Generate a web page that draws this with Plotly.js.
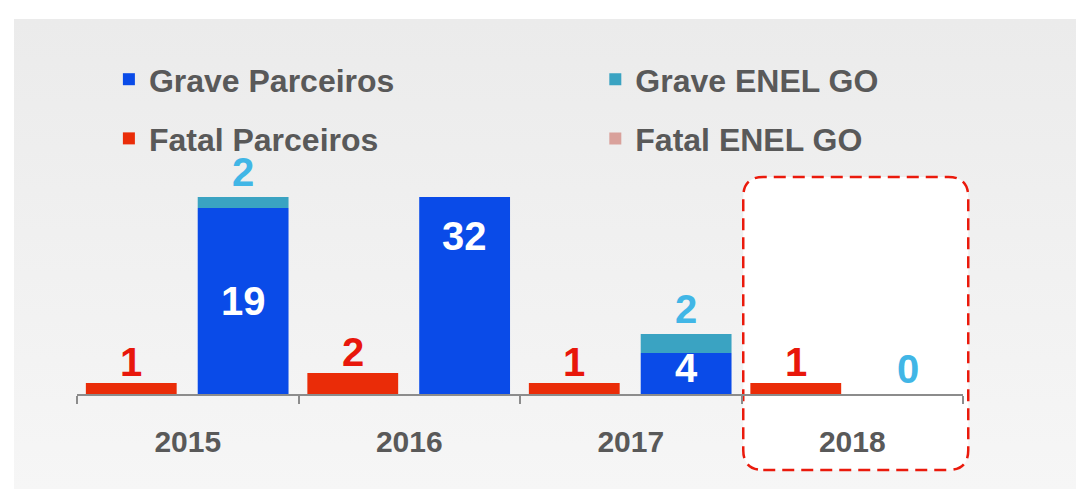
<!DOCTYPE html>
<html>
<head>
<meta charset="utf-8">
<script src="https://cdn.plot.ly/plotly-3.0.1.min.js"></script>
<style>
  html, body { margin: 0; padding: 0; background: #ffffff; }
  #chart {
    position: absolute; left: 14px; top: 19px; width: 1062px; height: 470px;
    background: linear-gradient(#ebebeb, #f6f6f6);
  }
</style>
</head>
<body>
<div id="chart"></div>
<script>
// categories
var years = ['2015', '2016', '2017', '2018'];

// numbers printed on the chart
var fatalParceirosShown = [1, 2, 1, 1];
var graveParceirosShown = [19, 32, 4, null];
var graveEnelShown = [2, null, 2, 0];

// bar heights as drawn in the original (its scale is not linear)
var fatalParceirosHeight = [11, 21, 11, 11];
var fatalEnelHeight = [0, 0, 0, 0];
var graveParceirosHeight = [186, 197, 41, 0];
var graveEnelHeight = [11, 0, 19, 0];

var BAR_W = 0.41, FATAL_OFF = -0.46, GRAVE_OFF = 0.045;
var GREY = '#595959';
var FONT = 'Arial, "Liberation Sans", sans-serif';

function barTrace(name, y, base, off, color, legend) {
	return {
		type: 'bar',
		name: name,
		x: years,
		y: y,
		base: base,
		width: BAR_W,
		offset: off,
		marker: { color: color, line: { width: 0 } },
		legend: legend,
		hoverinfo: 'skip'
	};
}

var data = [
	barTrace('Grave Parceiros', graveParceirosHeight, null, GRAVE_OFF, '#0a4be8', 'legend'),
	barTrace('Grave ENEL GO', graveEnelHeight, graveParceirosHeight, GRAVE_OFF, '#3aa3c2', 'legend2'),
	barTrace('Fatal Parceiros', fatalParceirosHeight, null, FATAL_OFF, '#ea2c08', 'legend3'),
	barTrace('Fatal ENEL GO', fatalEnelHeight, fatalParceirosHeight, FATAL_OFF, '#d9a19b', 'legend4')
];

// value labels
var annotations = [];
var insideFrac = [0.5, 0.8, 0.63, 0.5];
for (var i = 0; i < years.length; i++) {
	var xf = i + FATAL_OFF + BAR_W / 2;
	var xg = i + GRAVE_OFF + BAR_W / 2;
	annotations.push({
		x: xf, y: fatalParceirosHeight[i], xref: 'x', yref: 'y',
		text: String(fatalParceirosShown[i]), showarrow: false,
		yanchor: 'middle', yshift: 21,
		font: { family: FONT, size: 40, color: '#e8170b', weight: 'bold' }
	});
	if (graveParceirosShown[i] !== null) {
		annotations.push({
			x: xg, y: graveParceirosHeight[i] * insideFrac[i], xref: 'x', yref: 'y',
			text: String(graveParceirosShown[i]), showarrow: false, yanchor: 'middle',
			font: { family: FONT, size: 40, color: '#ffffff', weight: 'bold' }
		});
	}
	if (graveEnelShown[i] !== null) {
		annotations.push({
			x: xg, y: graveParceirosHeight[i] + graveEnelHeight[i], xref: 'x', yref: 'y',
			text: String(graveEnelShown[i]), showarrow: false,
			yanchor: 'middle', yshift: 25,
			font: { family: FONT, size: 40, color: '#41b6e6', weight: 'bold' }
		});
	}
}

// dashed highlight around 2018, in pixels around the category centre
var r = 20, L = -109, R = 116, B = -76, T = 217;
var boxPath = 'M' + (L + r) + ',' + B + ' L' + (R - r) + ',' + B +
	' Q' + R + ',' + B + ' ' + R + ',' + (B + r) +
	' L' + R + ',' + (T - r) + ' Q' + R + ',' + T + ' ' + (R - r) + ',' + T +
	' L' + (L + r) + ',' + T + ' Q' + L + ',' + T + ' ' + L + ',' + (T - r) +
	' L' + L + ',' + (B + r) + ' Q' + L + ',' + B + ' ' + (L + r) + ',' + B + ' Z';

var legendFont = { family: FONT, size: 32, color: GREY, weight: 'bold' };
function legendAt(x, y) {
	return {
		x: x, y: y, xanchor: 'left', yanchor: 'middle',
		bgcolor: 'rgba(0,0,0,0)', font: legendFont
	};
}

var layout = {
	width: 1062,
	height: 470,
	margin: { l: 63, r: 113, t: 155, b: 95 },
	paper_bgcolor: 'rgba(0,0,0,0)',
	plot_bgcolor: 'rgba(0,0,0,0)',
	font: { family: FONT, color: GREY },
	barmode: 'overlay',
	showlegend: true,
	legend: legendAt(0.036, 1.43),
	legend2: legendAt(0.585, 1.43),
	legend3: legendAt(0.036, 1.161),
	legend4: legendAt(0.585, 1.161),
	xaxis: {
		type: 'category',
		categoryarray: years,
		range: [-0.5, 3.5],
		tickson: 'boundaries',
		ticks: 'outside', ticklen: 8, tickwidth: 2, tickcolor: '#8c8c8c',
		showline: true, linecolor: '#8c8c8c', linewidth: 2,
		showgrid: false, zeroline: false,
		ticklabelstandoff: 20,
		tickfont: { family: FONT, size: 30, color: GREY, weight: 'bold' },
		fixedrange: true
	},
	yaxis: {
		range: [0, 220],
		showticklabels: false, showgrid: false, zeroline: false, showline: false,
		fixedrange: true
	},
	shapes: [{
		type: 'path', layer: 'below',
		xref: 'paper', yref: 'paper',
		xsizemode: 'pixel', ysizemode: 'pixel',
		xanchor: 0.875, yanchor: 0,
		path: boxPath,
		fillcolor: '#ffffff',
		line: { color: '#ea1a0c', width: 2.5, dash: '12px,7px' }
	}],
	annotations: annotations
};

Plotly.newPlot('chart', data, layout, { displayModeBar: false, staticPlot: true });
</script>
</body>
</html>
